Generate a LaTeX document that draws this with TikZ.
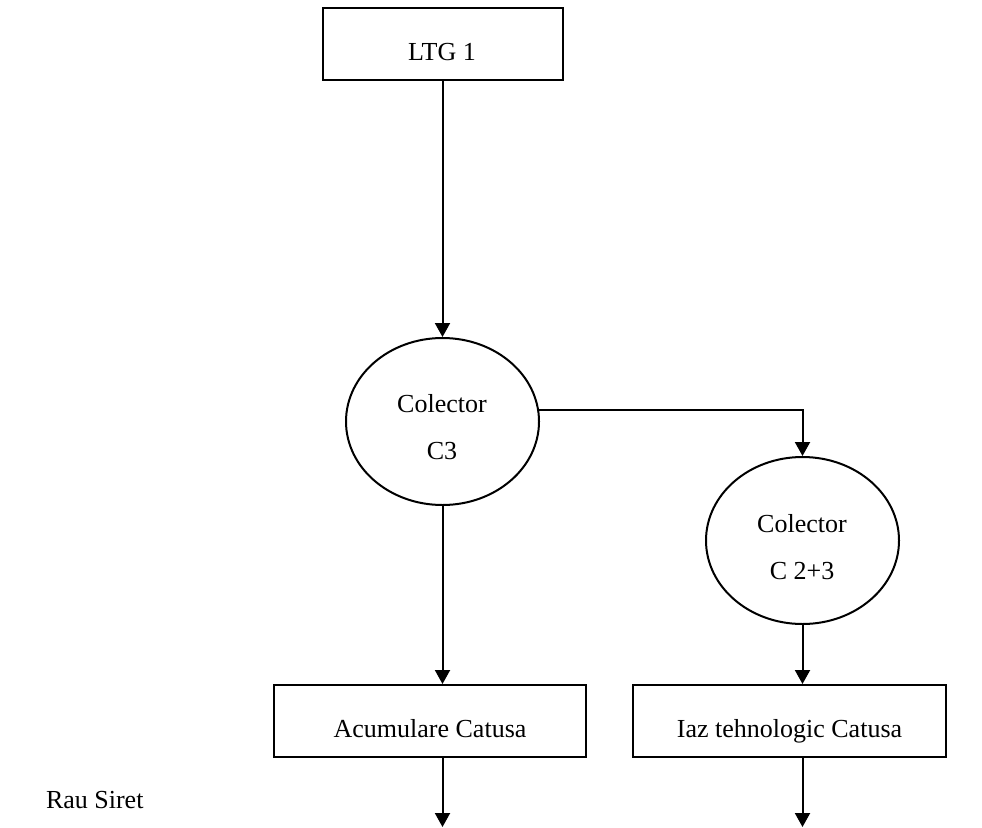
\documentclass[tikz,border=0pt]{standalone}
\usepackage{fontspec}
\setmainfont{Liberation Serif}
\usetikzlibrary{shapes.geometric,arrows.meta}
\begin{document}
\begin{tikzpicture}[x=1pt,y=-1pt,
  line width=2pt,
  boxshape/.style={draw, rectangle, inner sep=0pt, minimum height=72pt},
  ellshape/.style={draw, ellipse, inner sep=0pt, minimum width=193pt, minimum height=167pt},
  lbl/.style={anchor=base, inner sep=0pt, font=\fontsize{26}{30}\selectfont},
  arr/.style={-{Triangle[width=15pt,length=14pt]}}]
\useasboundingbox (0,0) rectangle (982,827);
% shapes
\node[boxshape, minimum width=240pt] (ltg) at (442.5,43.5) {};
\node[ellshape] (c3) at (442.5,421.5) {};
\node[ellshape] (c23) at (802.5,540.5) {};
\node[boxshape, minimum width=312pt] (acu) at (430,721) {};
\node[boxshape, minimum width=313pt] (iaz) at (789.5,721) {};
\coordinate (out1) at (442.5,827);
\coordinate (out2) at (802.5,827);
% texts
\node[lbl] (tltg) at (442,60) {LTG 1};
\node[lbl] (tc3a) at (442,412) {Colector};
\node[lbl] (tc3b) at (442,459) {C3};
\node[lbl] (tc23a) at (802,532) {Colector};
\node[lbl] (tc23b) at (802,579) {C 2+3};
\node[lbl] (tacu) at (430,737) {Acumulare Catusa};
\node[lbl] (tiaz) at (789.5,737) {Iaz tehnologic Catusa};
\node[lbl, anchor=base west] (rau) at (45,808) {Rau Siret};
% connectors
\draw[arr] (ltg.south) -- (c3.north);
\draw[arr] (c3.7.5) -| (c23.north);
\draw[arr] (c3.south) -- (c3.south |- acu.north);
\draw[arr] (c23.south) -- (c23.south |- iaz.north);
\draw[arr] (c3.south |- acu.south) -- (out1);
\draw[arr] (c23.south |- iaz.south) -- (out2);
\end{tikzpicture}
\end{document}
